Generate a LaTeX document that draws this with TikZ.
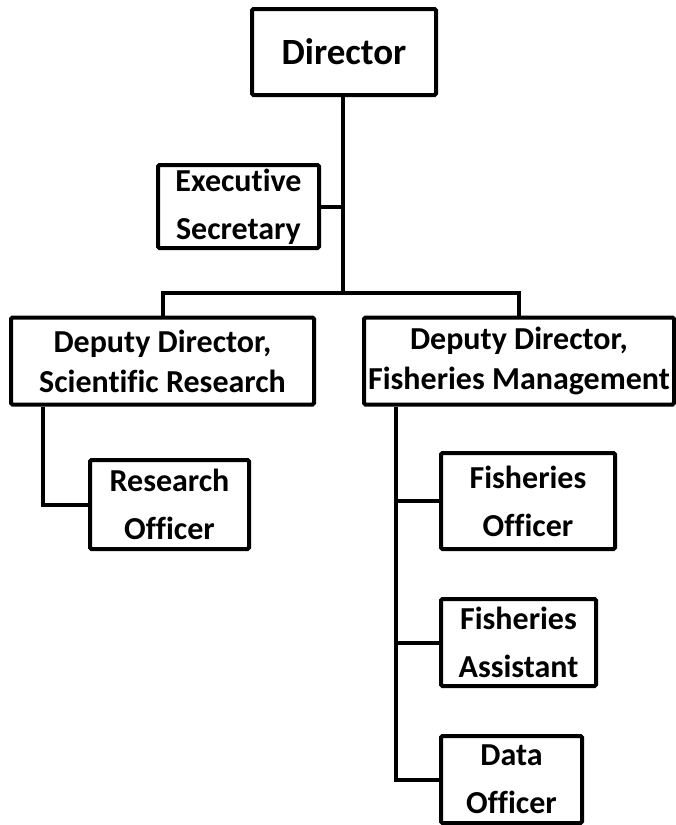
\documentclass[tikz,border=0pt]{standalone}
\usepackage{fontspec}
\setmainfont{Carlito}[Ligatures=NoCommon]
\begin{document}
\begin{tikzpicture}[x=1pt,y=-1pt,
  box/.style={draw=black,line width=4pt,rounded corners=1.5pt,inner sep=0pt,align=center,
    font=\fontsize{32}{48}\selectfont\bfseries,text=black},
  ddbox/.style={box,font=\fontsize{32}{40}\selectfont\bfseries},
  topbox/.style={box,font=\fontsize{37}{44}\selectfont\bfseries},
  link/.style={draw=black,line width=4pt}]
\useasboundingbox (0,0) rectangle (676,825);
\node[topbox,minimum width=184pt,minimum height=86pt] (dir) at (344,52) {Director};
\node[box,minimum width=161pt,minimum height=83pt] (ex) at (238.5,206.5) {Executive\\Secretary};
\node[ddbox,minimum width=303pt,minimum height=87pt] (dd1) at (162.5,361) {Deputy Director,\\Scientific Research};
\node[ddbox,minimum width=310pt,minimum height=87pt] (dd2) at (519,361) {Deputy Director,\\Fisheries Management};
\node[box,minimum width=159pt,minimum height=89pt] (ro) at (169.5,504.5) {Research\\Officer};
\node[box,minimum width=174pt,minimum height=96pt] (fo) at (528,501) {Fisheries\\Officer};
\node[box,minimum width=155pt,minimum height=87pt] (fa) at (518.5,642.5) {Fisheries\\Assistant};
\node[box,minimum width=141pt,minimum height=87pt] (do) at (511.5,779.5) {Data\\Officer};
\coordinate (bus) at (343,293);
\coordinate (l1) at (43,0);
\coordinate (r1) at (396,0);
\path[link] (dir.south -| bus) -- (bus);
\path[link] (ex.east) -- (ex.east -| bus);
\path[link] (dd1.north) |- (bus) -| (dd2.north);
\path[link] (l1 |- dd1.south) |- (ro.west);
\path[link] (r1 |- dd2.south) |- (do.west);
\path[link] (r1 |- fo.west) -- (fo.west);
\path[link] (r1 |- fa.west) -- (fa.west);
\end{tikzpicture}
\end{document}
